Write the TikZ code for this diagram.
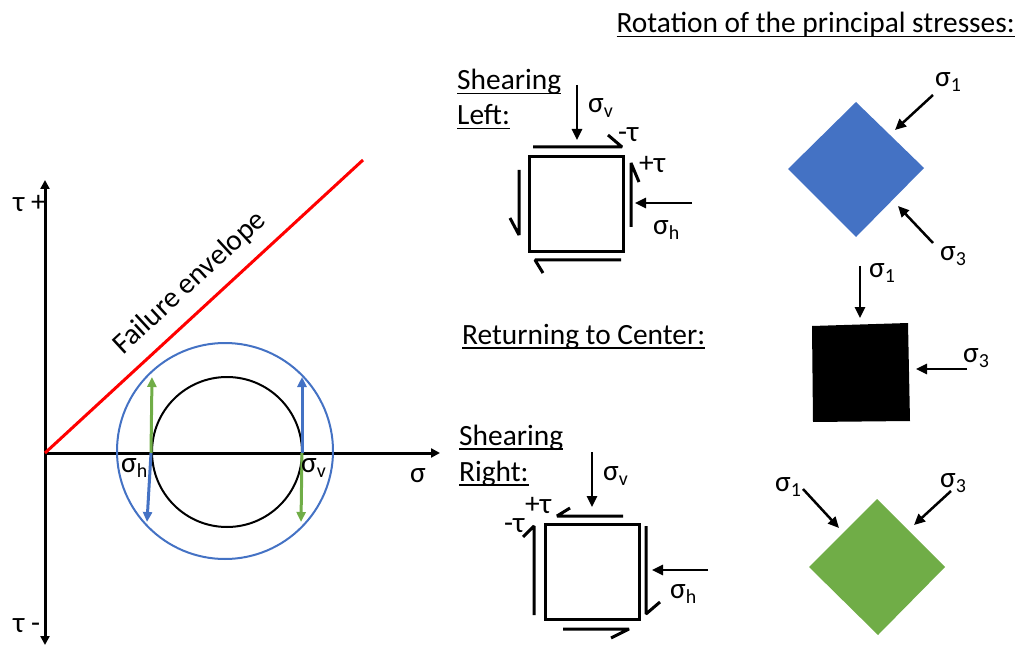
\documentclass[tikz,border=0pt]{standalone}
\usepackage{fontspec}
\setmainfont{Carlito}
\usetikzlibrary{arrows.meta}

\definecolor{mohrblue}{HTML}{4472C4}
\definecolor{mohrgreen}{HTML}{70AD47}

\newcommand{\lowidx}[1]{\raisebox{-5bp}{\fontsize{20}{20}\selectfont #1}}
\newcommand{\ulbox}[1]{\setbox0\hbox{#1}\rlap{\rule[-4.5bp]{\wd0}{1.8bp}}\box0}

\tikzset{
  heavy/.style={line width=3bp},
  tip/.style={-{Triangle[length=10bp,width=9bp]}},
  push/.style={line width=2.5bp,-{Triangle[length=11bp,width=10bp]}},
  lbl/.style={anchor=base west,inner sep=0pt},
  barb/.style={line width=3bp,line join=bevel}
}

\begin{document}
\begin{tikzpicture}[x=1bp,y=-1bp,every node/.style={font=\fontsize{29.5}{35}\selectfont}]
\useasboundingbox (0,0) rectangle (1020,646);

% Mohr diagram
\coordinate (O) at (45,453);
\draw[heavy,{Triangle[length=9bp,width=9bp]}-{Triangle[length=9bp,width=9bp]}] (45,180) -- (45,645);
\draw[heavy,-{Triangle[length=9bp,width=9bp]}] (O) -- (440,453);
\draw[heavy,red] (O) -- (363,160);
\node[rotate=42.7,inner sep=0pt] (envlabel) at (190,283) {Failure envelope};
\draw[mohrblue,line width=2bp] (225,451) circle[radius=108];
\draw[line width=2bp] (227,452) circle[radius=75];
\draw[heavy,mohrgreen,tip] (151,453) -- (152,377);
\draw[heavy,mohrblue,tip] (151,453) -- (147,522);
\draw[heavy,mohrblue,tip] (302,453) -- (302,377);
\draw[heavy,mohrgreen,tip] (302,453) -- (301,522);
\node[lbl] (tauplus) at (13,212) {τ +};
\node[lbl] (tauminus) at (13,632) {τ -};
\node[lbl] (sigaxis) at (410,482) {σ};
\node[lbl] (mohrsigh) at (121,472) {σ\lowidx{h}};
\node[lbl] (mohrsigv) at (301,472) {σ\lowidx{v}};

% titles
\node[anchor=base east,inner sep=0pt] (rottitle) at (1015,33) {\ulbox{Rotation of the principal stresses:}};
\node[lbl] (leftA) at (457,90) {\ulbox{Shearing}};
\node[lbl] (leftB) at (457,125) {\ulbox{Left:}};
\node[lbl] (center) at (462,344) {\ulbox{Returning to Center:}};
\node[lbl] (rightA) at (459,445) {\ulbox{Shearing}};
\node[lbl] (rightB) at (459,481) {\ulbox{Right:}};

% shearing left element
\draw[heavy] (529,157) rectangle (623,252);
\draw[barb] (533,147) -- (622,147) -- (608,135);
\draw[barb] (631,227) -- (631,163) -- (639,182);
\draw[barb] (519,170) -- (519,235) -- (510,218);
\draw[barb] (621,260) -- (535,260) -- (543,273);
\draw[push] (577,85) -- (577,140);
\draw[push] (692,203) -- (635,203);
\node[lbl] (lsigv) at (588,113) {σ\lowidx{v}};
\node[lbl] (ltaun) at (618,142) {-τ};
\node[lbl] (ltaup) at (639,173) {+τ};
\node[lbl] (lsigh) at (653,235) {σ\lowidx{h}};

% shearing right element
\draw[heavy] (545,524) rectangle (639,619);
\draw[barb] (623,516) -- (557,516) -- (570,508);
\draw[barb] (534,615) -- (534,526) -- (523,537);
\draw[barb] (646,526) -- (646,614) -- (660,602);
\draw[barb] (563,629) -- (629,629) -- (611,638);
\draw[push] (592,452) -- (592,507);
\draw[push] (708,570) -- (652,570);
\node[lbl] (rsigv) at (603,480) {σ\lowidx{v}};
\node[lbl] (rtaup) at (525,513) {+τ};
\node[lbl] (rtaun) at (504,532) {-τ};
\node[lbl] (rsigh) at (670,598) {σ\lowidx{h}};

% principal stresses
\fill[mohrblue] (856,102) -- (924,168) -- (856,237) -- (788,169) -- cycle;
\draw[push] (933,95) -- (895,130);
\draw[push] (933,243) -- (898,206);
\node[lbl] (bsig1) at (935,87) {σ\lowidx{1}};
\node[lbl] (bsig3) at (940,261) {σ\lowidx{3}};

\fill[black] (812,326) -- (908,323) -- (910,421) -- (813,422) -- cycle;
\draw[push] (860,266) -- (860,318);
\draw[push] (967,369) -- (916,369);
\node[lbl] (ksig1) at (869,278) {σ\lowidx{1}};
\node[lbl] (ksig3) at (963,362) {σ\lowidx{3}};

\fill[mohrgreen] (877,499) -- (945,567) -- (878,635) -- (809,567) -- cycle;
\draw[push] (803,489) -- (839,528);
\draw[push] (951,491) -- (914,525);
\node[lbl] (gsig1) at (775,491) {σ\lowidx{1}};
\node[lbl] (gsig3) at (940,487) {σ\lowidx{3}};
\end{tikzpicture}
\end{document}
